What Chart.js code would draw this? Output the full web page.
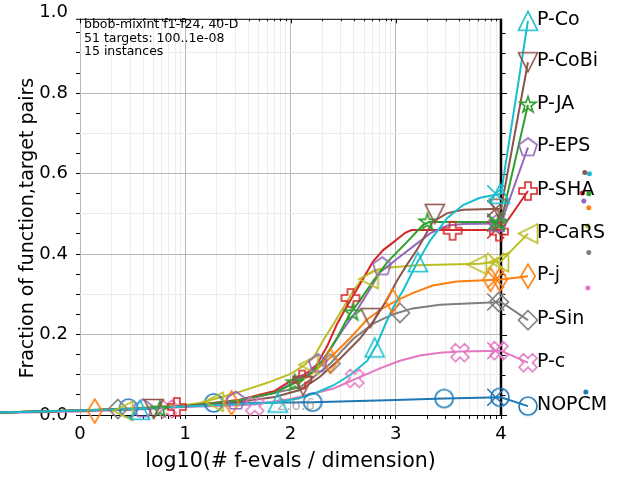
<!DOCTYPE html>
<html>
<head>
<meta charset="utf-8">
<script src="https://cdn.jsdelivr.net/npm/chart.js@4.4.1/dist/chart.umd.min.js"></script>
<style>
html,body{margin:0;padding:0;background:#fff;}
#wrap{width:640px;height:480px;}
</style>
</head>
<body>
<div id="wrap"><canvas id="c" width="640" height="480"></canvas></div>
<script>
const FONT = "'DejaVu Sans', 'Liberation Sans', sans-serif";

const seriesNames  = ['P-Co','P-CoBi','P-JA','P-EPS','P-SHA','P-CaRS','P-j','P-Sin','P-c','NOPCM'];
const seriesColors = ['#17becf','#8c564b','#2ca02c','#9467bd','#d62728','#bcbd22','#ff7f0e','#7f7f7f','#e377c2','#1f77b4'];
const markerShapes = ['triUp','triDown','star','pentagon','plus','triLeft','thinDiamond','diamond','xcross','circle'];

// ECDF curves: [log10(#f-evals/dim), fraction]
const lineCo   = [[-0.76,0.006],[0,0.011],[0.5,0.015],[1.0,0.021],[1.5,0.027],[1.87,0.031],[2.09,0.042],[2.25,0.056],[2.41,0.074],[2.57,0.1],[2.73,0.135],[2.82,0.175],[2.9,0.225],[2.98,0.27],[3.07,0.31],[3.2,0.377],[3.33,0.435],[3.49,0.49],[3.64,0.522],[3.8,0.54],[4.0,0.55]];
const lineCoBi = [[-0.76,0.006],[0,0.011],[0.5,0.015],[1.0,0.022],[1.5,0.032],[1.85,0.045],[2.09,0.062],[2.28,0.095],[2.47,0.14],[2.66,0.19],[2.785,0.232],[2.92,0.288],[3.01,0.333],[3.11,0.375],[3.2,0.41],[3.26,0.437],[3.35,0.48],[3.49,0.502],[3.64,0.51],[4.0,0.513]];
const lineJA   = [[-0.76,0.006],[0,0.011],[0.5,0.015],[1.0,0.022],[1.5,0.036],[1.85,0.055],[2.04,0.08],[2.2,0.105],[2.32,0.14],[2.45,0.195],[2.56,0.25],[2.66,0.285],[2.785,0.333],[2.92,0.38],[3.11,0.431],[3.26,0.473],[3.32,0.48],[4.0,0.48]];
const lineEPS  = [[-0.76,0.006],[0,0.011],[0.5,0.015],[1.0,0.022],[1.5,0.035],[1.85,0.055],[2.0,0.078],[2.2,0.108],[2.3,0.135],[2.4,0.172],[2.49,0.209],[2.63,0.26],[2.76,0.315],[2.85,0.355],[2.95,0.375],[3.01,0.388],[3.16,0.418],[3.33,0.452],[3.49,0.471],[3.64,0.475],[4.0,0.476]];
const lineSHA  = [[-0.76,0.006],[0,0.011],[0.5,0.015],[1.0,0.022],[1.5,0.037],[1.85,0.06],[2.0,0.085],[2.15,0.103],[2.25,0.125],[2.35,0.172],[2.44,0.225],[2.53,0.268],[2.66,0.325],[2.78,0.38],[2.88,0.41],[2.97,0.428],[3.09,0.453],[3.15,0.46],[4.0,0.46]];
const lineCaRS = [[-0.76,0.007],[0,0.012],[0.5,0.017],[1.0,0.025],[1.14,0.03],[1.45,0.052],[1.78,0.08],[2.0,0.102],[2.12,0.122],[2.22,0.143],[2.31,0.185],[2.41,0.227],[2.5,0.266],[2.6,0.31],[2.7,0.345],[2.8,0.36],[2.92,0.366],[3.2,0.372],[3.5,0.374],[3.8,0.376],[4.0,0.382]];
const lineJ    = [[-0.76,0.006],[0,0.011],[0.5,0.015],[1.0,0.022],[1.5,0.035],[1.85,0.058],[2.0,0.075],[2.16,0.094],[2.38,0.143],[2.57,0.192],[2.73,0.238],[2.88,0.266],[3.01,0.285],[3.16,0.303],[3.35,0.322],[3.58,0.332],[4.0,0.337]];
const lineSin  = [[-0.76,0.006],[0,0.011],[0.5,0.015],[1.0,0.022],[1.5,0.035],[1.85,0.055],[2.09,0.069],[2.2,0.09],[2.38,0.128],[2.5,0.163],[2.6,0.19],[2.785,0.227],[2.97,0.25],[3.16,0.265],[3.42,0.274],[4.0,0.281]];
const lineC    = [[-0.76,0.005],[0,0.009],[0.5,0.013],[1.0,0.02],[1.5,0.024],[1.66,0.026],[2.0,0.04],[2.2,0.052],[2.41,0.066],[2.63,0.091],[2.85,0.116],[3.04,0.135],[3.23,0.148],[3.42,0.155],[3.61,0.158],[4.0,0.16]];
const lineNOPCM= [[-0.76,0.006],[0,0.011],[0.5,0.016],[1.0,0.022],[1.27,0.028],[1.5,0.03],[2.21,0.032],[3.0,0.037],[3.46,0.041],[4.0,0.044]];

// marker positions along each curve
const markCo    = [[0.57,0.013],[1.88,0.031],[2.8,0.168],[3.21,0.38],[3.99,0.55]];
const markCoBi  = [[0.7,0.015],[2.12,0.072],[2.76,0.241],[3.37,0.5],[3.98,0.513]];
const markJA    = [[0.76,0.014],[2.04,0.08],[2.59,0.254],[3.3,0.48],[3.98,0.478]];
const markEPS   = [[0.6,0.016],[1.48,0.035],[2.26,0.128],[2.87,0.369],[3.97,0.476]];
const markSHA   = [[0.92,0.02],[2.11,0.088],[2.57,0.291],[3.54,0.458],[3.98,0.456]];
const markCaRS  = [[0.41,0.01],[1.27,0.033],[2.17,0.125],[2.74,0.338],[3.77,0.374],[3.98,0.38]];
const markJ     = [[0.14,0.01],[1.44,0.03],[2.38,0.135],[2.97,0.283],[3.9,0.337],[3.99,0.337]];
const markSin   = [[0.36,0.015],[2.38,0.128],[3.04,0.254],[3.98,0.281]];
const markC     = [[0.83,0.015],[1.66,0.022],[2.61,0.091],[3.61,0.155],[3.98,0.16]];
const markNOPCM = [[0.46,0.017],[1.27,0.03],[2.21,0.032],[3.46,0.041],[3.99,0.044]];

const legendX = 4.256;
const legendY = [0.980,0.877,0.771,0.665,0.557,0.451,0.345,0.236,0.130,0.022];
const budgetX = 3.95;

const dotX = [4.84,4.796,4.834,4.787,4.774,4.822,4.834,4.834,4.825,4.806];
const dotY = [0.600,0.603,0.550,0.532,0.552,0.470,0.515,0.404,0.316,0.057];

const X_MIN = 0, X_MAX = 4, Y_MIN = 0, Y_MAX = 0.985;
const xMajorTicks = [0,1,2,3,4];
const xMinorMultipliers = [2,3,4,5,6,7,8,9];
const yMajorTicks = [0,0.2,0.4,0.6,0.8,1.0];
const yMinorTicks = [0.1,0.3,0.5,0.7,0.9];
const yTinyTicks  = [0.05,0.15,0.25,0.35,0.45,0.55,0.65,0.75,0.85,0.95];

const infoLines = ['bbob-mixint f1-f24, 40-D','51 targets: 100..1e-08','15 instances'];
const versionText = '2.6.6';
const versionPos = [1.87, 0.012];
const yTitleText = 'Fraction of function,target pairs';
const yTitleCenter = 0.465;

const lineSets = [lineCo,lineCoBi,lineJA,lineEPS,lineSHA,lineCaRS,lineJ,lineSin,lineC,lineNOPCM];
const markSets = [markCo,markCoBi,markJA,markEPS,markSHA,markCaRS,markJ,markSin,markC,markNOPCM];

function makeMarker(shape, color){
  const S = 28; const c = document.createElement('canvas'); c.width = S; c.height = S;
  const g = c.getContext('2d'); g.translate(S/2, S/2);
  g.strokeStyle = color; g.lineWidth = 1.6; g.lineJoin = 'miter';
  g.beginPath();
  const poly = pts => { pts.forEach((p,i)=> i ? g.lineTo(p[0],p[1]) : g.moveTo(p[0],p[1])); g.closePath(); };
  const plusPts = [[-1,-3],[1,-3],[1,-1],[3,-1],[3,1],[1,1],[1,3],[-1,3],[-1,1],[-3,1],[-3,-1],[-1,-1]];
  switch(shape){
    case 'triUp':   { const r=9.5; poly([[0,-r],[r,r],[-r,r]]); break; }
    case 'triDown': { const r=9.5; poly([[0,r],[r,-r],[-r,-r]]); break; }
    case 'triLeft': { const r=9.5; poly([[-r,0],[r,-r],[r,r]]); break; }
    case 'star': { const R=8.5, ri=R*0.382; const p=[]; for(let i=0;i<10;i++){ const a=-Math.PI/2+i*Math.PI/5; const rr=i%2?ri:R; p.push([rr*Math.cos(a), rr*Math.sin(a)]); } poly(p); break; }
    case 'pentagon': { const R=9.5; const p=[]; for(let i=0;i<5;i++){ const a=-Math.PI/2+i*2*Math.PI/5; p.push([R*Math.cos(a), R*Math.sin(a)]); } poly(p); break; }
    case 'plus': { const u=18/6; poly(plusPts.map(([a,b])=>[a*u,b*u])); break; }
    case 'xcross': { const u=19/6, k=Math.SQRT1_2; poly(plusPts.map(([a,b])=>[(a-b)*k*u,(a+b)*k*u])); break; }
    case 'thinDiamond': poly([[0,-12],[7.2,0],[0,12],[-7.2,0]]); break;
    case 'diamond': poly([[0,-9.5],[9.5,0],[0,9.5],[-9.5,0]]); break;
    case 'circle': g.arc(0,0,9,0,2*Math.PI); break;
  }
  g.stroke();
  return c;
}

const toXY = arr => arr.map(([x,y]) => ({x, y}));
const datasets = [];
seriesNames.forEach((name, i) => {
  const col = seriesColors[i];
  const line = lineSets[i];
  datasets.push({ label: name, data: toXY(line.concat([[legendX, legendY[i]]])), showLine: true,
    borderColor: col, borderWidth: 2, pointRadius: 0, tension: 0, fill: false, clip: false, order: 2 });
  datasets.push({ label: name + ' markers', data: toXY(markSets[i].concat([[legendX, legendY[i]]])), showLine: false,
    pointStyle: makeMarker(markerShapes[i], col), pointRadius: 10, clip: false, order: 1 });
  datasets.push({ label: name + ' budget', data: [{x: budgetX, y: line[line.length-1][1]}], showLine: false,
    pointStyle: 'crossRot', pointRadius: 12, pointBorderColor: col, pointBorderWidth: 1.5, clip: false, order: 1 });
});
datasets.push({ label: 'dots', data: dotX.map((x,i) => ({x, y: dotY[i]})), showLine: false,
  pointRadius: 2.5, pointBackgroundColor: seriesColors, pointBorderWidth: 0, clip: false, order: 0 });

const near = (v, arr) => arr.some(t => Math.abs(t - v) < 1e-9);
const xTickValues = xMajorTicks.slice();
for (let d = 0; d < 4; d++) xMinorMultipliers.forEach(k => xTickValues.push(d + Math.log10(k)));
xTickValues.sort((a,b)=>a-b);
const yTickValues = yMajorTicks.concat(yMinorTicks, yTinyTicks).sort((a,b)=>a-b);

const decor = {
  id: 'decor',
  beforeDatasetsDraw(chart){
    const {ctx, chartArea: a, scales: {x, y}} = chart;
    const xr = x.getPixelForValue(X_MAX);
    ctx.save();
    ctx.strokeStyle = '#000';
    ctx.lineWidth = 1;
    ctx.beginPath(); ctx.moveTo(a.left - 4, a.top + 0.5); ctx.lineTo(xr, a.top + 0.5); ctx.stroke();
    x.ticks.forEach(t => {
      const px = Math.round(x.getPixelForValue(t.value)) + 0.5;
      const len = near(t.value, xMajorTicks) ? 4.5 : 2.5;
      ctx.beginPath(); ctx.moveTo(px, a.top); ctx.lineTo(px, a.top + len); ctx.stroke();
    });
    y.ticks.forEach(t => {
      if (t.value > Y_MAX) return;
      const py = Math.round(y.getPixelForValue(t.value)) + 0.5;
      const len = near(t.value, yMajorTicks) ? 5 : 3.5;
      ctx.beginPath(); ctx.moveTo(xr, py); ctx.lineTo(xr + 1 + len, py); ctx.stroke();
    });
    ctx.lineWidth = 2.5;
    ctx.beginPath(); ctx.moveTo(xr, a.top); ctx.lineTo(xr, a.bottom); ctx.stroke();
    ctx.restore();
    chart._savedArea = chart.chartArea;
    chart.chartArea = {left: -2000, top: -2000, right: 3000, bottom: 3000, width: 5000, height: 5000};
  },
  afterDatasetsDraw(chart){
    if (chart._savedArea) chart.chartArea = chart._savedArea;
  },
  afterDraw(chart){
    const {ctx, chartArea: a, scales: {x, y}} = chart;
    ctx.save();
    ctx.fillStyle = '#000';
    ctx.textAlign = 'left';
    ctx.textBaseline = 'alphabetic';
    ctx.font = '12.5px ' + FONT;
    infoLines.forEach((s, i) => ctx.fillText(s, a.left + 4, a.top + 9.5 + i * 13.5));
    ctx.font = '15px ' + FONT;
    ctx.fillStyle = 'rgba(128,128,128,0.6)';
    ctx.fillText(versionText, x.getPixelForValue(versionPos[0]), y.getPixelForValue(versionPos[1]));
    ctx.fillStyle = '#000';
    ctx.font = '19px ' + FONT;
    ctx.textBaseline = 'middle';
    seriesNames.forEach((n, i) => ctx.fillText(n, x.getPixelForValue(legendX) + 9, y.getPixelForValue(legendY[i]) - 1));
    // y-axis title
    ctx.save();
    ctx.translate(28, y.getPixelForValue(yTitleCenter));
    ctx.rotate(-Math.PI / 2);
    ctx.textAlign = 'center';
    ctx.font = '19px ' + FONT;
    ctx.fillText(yTitleText, 0, 0);
    ctx.restore();
    ctx.restore();
  }
};

Chart.defaults.font.family = FONT;
new Chart(document.getElementById('c'), {
  type: 'scatter',
  data: { datasets },
  plugins: [decor],
  options: {
    responsive: false,
    animation: false,
    events: [],
    layout: { padding: { left: 0, right: 139, top: 15, bottom: 0 } },
    plugins: { legend: { display: false }, tooltip: { enabled: false } },
    scales: {
      x: {
        type: 'linear', position: 'bottom', bounds: 'data',
        afterDataLimits(s){ s.min = X_MIN; s.max = X_MAX; },
        afterBuildTicks(s){ s.ticks = xTickValues.map(v => ({value: v})); },
        afterFit(s){ s.height = 65; },
        ticks: { autoSkip: false, maxRotation: 0, padding: 5, color: '#000', font: { size: 18 },
          callback: v => near(v, xMajorTicks) ? String(Math.round(v)) : '' },
        grid: {
          color: c => c.tick ? (near(c.tick.value, xMajorTicks) ? '#b8b8b8' : '#ececec') : '#b8b8b8',
          tickColor: '#000', tickLength: 4, lineWidth: 1
        },
        border: { display: true, color: '#000', width: 1 },
        title: { display: true, text: 'log10(# f-evals / dimension)', color: '#000', font: { size: 20.5 }, padding: { top: 0, bottom: 6 } }
      },
      y: {
        type: 'linear', position: 'left', bounds: 'data',
        afterDataLimits(s){ s.min = Y_MIN; s.max = Y_MAX; },
        afterBuildTicks(s){ s.ticks = yTickValues.map(v => ({value: v})); },
        afterFit(s){ s.width = 80; },
        ticks: { autoSkip: false, padding: 8, color: '#000', font: { size: 18 },
          callback: v => near(v, yMajorTicks) ? v.toFixed(1) : '' },
        grid: {
          color: c => {
            if (!c.tick) return 'transparent';
            const v = c.tick.value;
            if (v > Y_MAX) return 'transparent';
            if (near(v, yMajorTicks)) return '#b8b8b8';
            if (near(v, yMinorTicks)) return '#ececec';
            return 'transparent';
          },
          tickColor: c => (c.tick && c.tick.value > Y_MAX) ? 'transparent' : '#000',
          tickLength: 4, lineWidth: 1
        },
        border: { display: false },
        title: { display: false }
      }
    }
  }
});
</script>
</body>
</html>
